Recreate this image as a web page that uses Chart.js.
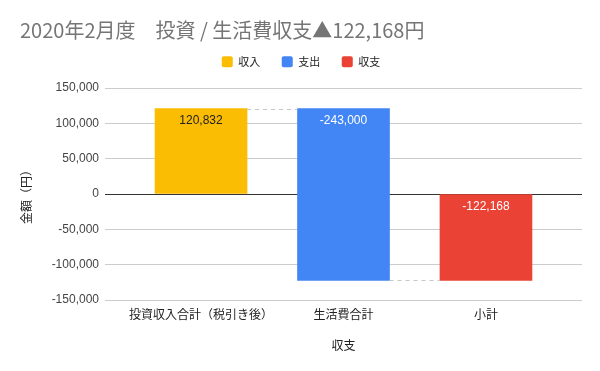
<!DOCTYPE html>
<html>
<head>
<meta charset="utf-8">
<script src="https://cdn.jsdelivr.net/npm/chart.js@4"></script>
<style>
  html, body { margin: 0; padding: 0; background: #fff; }
  #wrap { width: 600px; height: 371px; }
</style>
</head>
<body>
<div id="wrap"><canvas id="c" width="600" height="371"></canvas></div>
<script>
const titleText = '2020年2月度　投資 / 生活費収支▲122,168円';
const categories = ['投資収入合計（税引き後）', '生活費合計', '小計'];
const seriesNames = ['収入', '支出', '収支'];
const seriesColors = ['#FBBC04', '#4285F4', '#EA4335'];
const income = [120832];      // 投資収入合計（税引き後）
const expense = [-243000];    // 生活費合計
const balance = [-122168];    // 小計 (total)
const yTicks = [-150000, -100000, -50000, 0, 50000, 100000, 150000];

// waterfall ranges built from the values above
const incomeStart = 0, incomeEnd = income[0];
const expenseStart = incomeEnd, expenseEnd = incomeEnd + expense[0];
const balanceStart = 0, balanceEnd = balance[0];
const connectorLevels = [incomeEnd, expenseEnd];
const labelValues = [income[0], expense[0], balance[0]];
const labelColors = ['#222222', '#ffffff', '#ffffff'];

const CJK = '"Noto Sans CJK JP"';
const SANS = '"Liberation Sans", Arial, ' + CJK + ', sans-serif';

const fmt = v => Number(v).toLocaleString('en-US');

const waterfallPlugin = {
  id: 'waterfall',
  afterDatasetsDraw(chart) {
    const ctx = chart.ctx;
    const y = chart.scales.y;
    const bars = chart.data.datasets.map((ds, i) => chart.getDatasetMeta(i).data[0]);
    ctx.save();
    ctx.strokeStyle = '#c6c6c6';
    ctx.lineWidth = 1;
    ctx.setLineDash([4, 4]);
    for (let i = 0; i < bars.length - 1; i++) {
      const a = bars[i], b = bars[i + 1];
      const py = Math.round(y.getPixelForValue(connectorLevels[i])) + 0.5;
      ctx.beginPath();
      ctx.moveTo(a.x + a.width / 2, py);
      ctx.lineTo(b.x - b.width / 2, py);
      ctx.stroke();
    }
    ctx.restore();
    ctx.save();
    ctx.font = '12px ' + SANS;
    ctx.textAlign = 'center';
    ctx.textBaseline = 'middle';
    bars.forEach((bar, i) => {
      const top = Math.min(bar.y, bar.base);
      ctx.fillStyle = labelColors[i];
      ctx.fillText(fmt(labelValues[i]), bar.x, top + 12);
    });
    ctx.restore();
  }
};

new Chart(document.getElementById('c'), {
  type: 'bar',
  data: {
    datasets: [
      { label: seriesNames[0], data: [{ x: 0, y: [incomeStart, incomeEnd] }], backgroundColor: seriesColors[0] },
      { label: seriesNames[1], data: [{ x: 1, y: [expenseStart, expenseEnd] }], backgroundColor: seriesColors[1] },
      { label: seriesNames[2], data: [{ x: 2, y: [balanceStart, balanceEnd] }], backgroundColor: seriesColors[2] }
    ]
  },
  options: {
    responsive: false,
    animation: false,
    grouped: false,
    barThickness: 92,
    layout: { padding: { left: 20, right: 18, top: 0, bottom: 0 } },
    plugins: {
      tooltip: { enabled: false },
      title: {
        display: true,
        text: titleText,
        align: 'start',
        color: '#757575',
        font: { family: CJK, size: 20, weight: 'normal', lineHeight: 1.2 },
        padding: { top: 18.4, bottom: -7.7 }
      },
      legend: {
        display: true,
        position: 'top',
        labels: {
          boxWidth: 11,
          boxHeight: 11,
          useBorderRadius: true,
          borderRadius: 2,
          padding: 21.5,
          color: '#222',
          font: { family: CJK, size: 11 }
        }
      }
    },
    scales: {
      x: {
        type: 'linear',
        position: 'bottom',
        offset: false,
        min: -0.674,
        max: 2.674,
        grid: { display: false, drawTicks: false, offset: false },
        border: { display: false },
        afterBuildTicks: s => { s.ticks = categories.map((c, i) => ({ value: i })); },
        afterFit: s => { s.height = 71; },
        ticks: {
          autoSkip: false,
          maxRotation: 0,
          padding: 7,
          color: '#222',
          font: { family: CJK, size: 12 },
          callback: v => categories[v]
        },
        title: {
          display: true,
          text: '収支',
          color: '#222',
          font: { family: CJK, size: 12, lineHeight: 1.2 },
          padding: { top: 0, bottom: 18.8 }
        }
      },
      xTop: {
        type: 'linear',
        axis: 'x',
        position: 'top',
        display: true,
        offset: false,
        min: 0, max: 1,
        grid: { display: false, drawTicks: false },
        border: { display: false },
        ticks: { display: false },
        afterFit: s => { s.height = 10.8; }
      },
      y: {
        min: -150000,
        max: 150000,
        afterBuildTicks: s => { s.ticks = yTicks.map(v => ({ value: v })); },
        afterFit: s => { s.width = 85; },
        grid: {
          drawTicks: false,
          color: c => (c.tick && c.tick.value === 0) ? '#333333' : '#cccccc',
          lineWidth: 1
        },
        border: { display: false },
        ticks: {
          padding: 6,
          color: '#444',
          font: { family: SANS, size: 12 },
          callback: v => fmt(v)
        },
        title: {
          display: true,
          text: '金額（円）',
          color: '#222',
          font: { family: CJK, size: 12, lineHeight: 1.0 },
          padding: { top: 0, bottom: 0 }
        }
      }
    }
  },
  plugins: [waterfallPlugin]
});
</script>
</body>
</html>
